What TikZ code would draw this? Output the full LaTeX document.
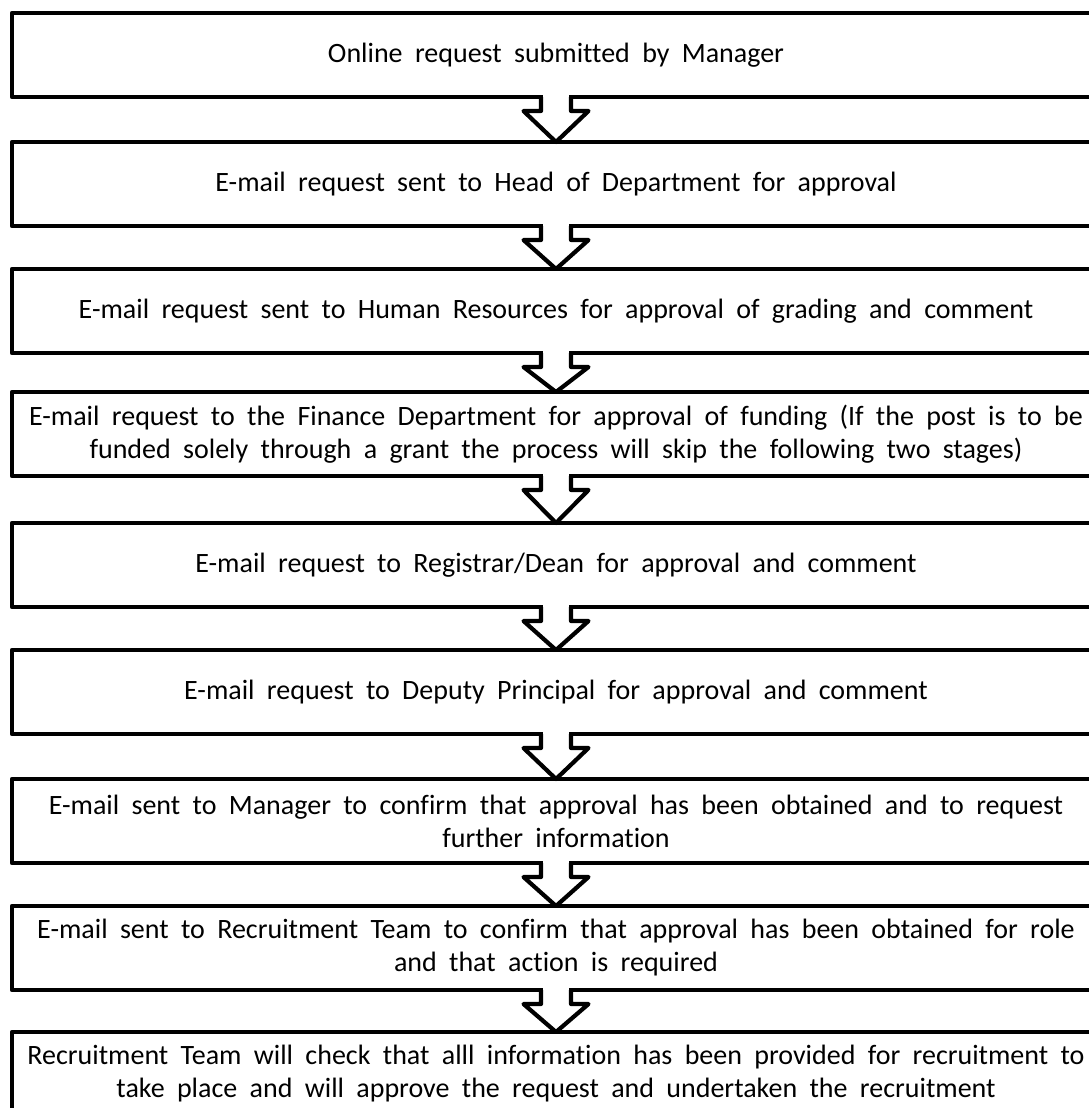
\documentclass[tikz,border=0pt]{standalone}
\usepackage{fontspec}
\setmainfont{Carlito}[Ligatures=NoCommon, WordSpace=1.95]
\usetikzlibrary{calc}
\tikzset{
  stepbox/.style={draw=black, line width=4.6pt, line join=round, fill=white,
    minimum width=1088pt, minimum height=84pt, inner sep=0pt, outer sep=0pt,
    align=center, font=\fontsize{28}{33}\selectfont},
  flowarrow/.style={draw=black, fill=white, line width=4.2pt, line join=round},
}
\newcommand{\flowarr}[2]{%
  \fill[white] ($(#1.south)+(-12.8,-3)$) rectangle ($(#1.south)+(12.8,10)$);
  \filldraw[flowarrow] ($(#1.south)+(-15,0)$) -- ++(0,14) -- ++(-17.5,0)
    -- (#2.north) -- ($(#1.south)+(32.5,14)$) -- ++(-17.5,0) -- ++(0,-14);
}
\begin{document}
\begin{tikzpicture}[x=1pt,y=-1pt]
\useasboundingbox (0,0) rectangle (1088,1108);
\node[stepbox] (b1) at (556,55) {Online request submitted by Manager};
\node[stepbox] (b2) at (556,184) {E-mail request sent to Head of Department for approval};
\node[stepbox] (b3) at (556,311) {E-mail request sent to Human Resources for approval of grading and comment};
\node[stepbox] (b4) at (556,434) {E-mail request to the Finance Department for approval of funding (If the post is to be\\funded solely through a grant the process will skip the following two stages)};
\node[stepbox] (b5) at (556,565) {E-mail request to Registrar/Dean for approval and comment};
\node[stepbox] (b6) at (556,692) {E-mail request to Deputy Principal for approval and comment};
\node[stepbox] (b7) at (556,821) {E-mail sent to Manager to confirm that approval has been obtained and to request\\further information};
\node[stepbox] (b8) at (556,948) {E-mail sent to Recruitment Team to confirm that approval has been obtained for role\\and that action is required};
\node[stepbox] (b9) at (556,1074) {Recruitment Team will check that alll information has been provided for recruitment to\\take place and will approve the request and undertaken the recruitment};
\flowarr{b1}{b2}
\flowarr{b2}{b3}
\flowarr{b3}{b4}
\flowarr{b4}{b5}
\flowarr{b5}{b6}
\flowarr{b6}{b7}
\flowarr{b7}{b8}
\flowarr{b8}{b9}
\end{tikzpicture}
\end{document}
